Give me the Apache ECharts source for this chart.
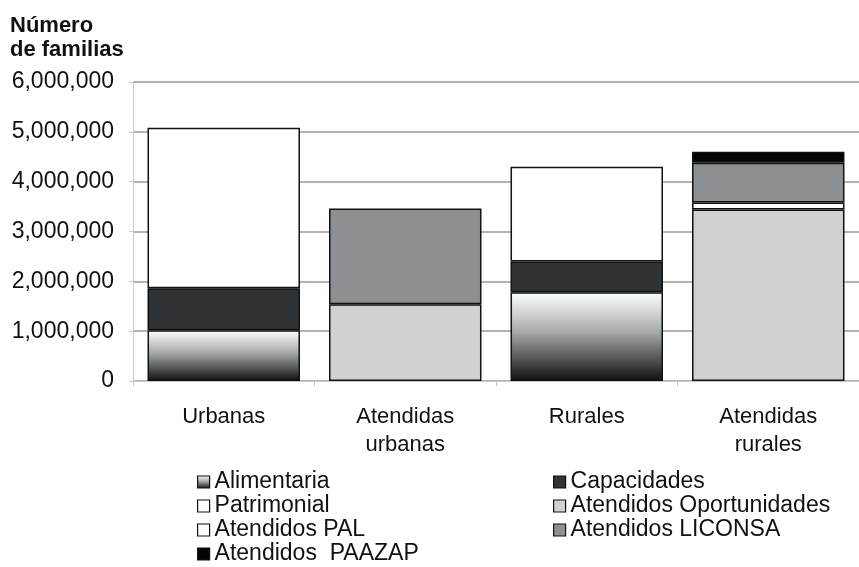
<!DOCTYPE html>
<html>
<head>
<meta charset="utf-8">
<script src="https://cdn.jsdelivr.net/npm/echarts@6/dist/echarts.min.js"></script>
<style>
html, body { margin: 0; padding: 0; background: #fff; }
#main { width: 859px; height: 567px; }
</style>
</head>
<body>
<div id="main"></div>
<script>
const categories = ['Urbanas', 'Atendidas\nurbanas', 'Rurales', 'Atendidas\nrurales'];
const alimentaria = [1020000, '-', 1780000, '-'];
const capacidades = [840000, '-', 620000, '-'];
const patrimonial = [3220000, '-', 1900000, '-'];
const oportunidades = ['-', 1540000, '-', 3440000];
const pal = ['-', '-', '-', 140000];
const liconsa = ['-', 1920000, '-', 800000];
const paazap = ['-', '-', '-', 220000];
const yMax = 6000000;
const yStep = 1000000;

const chart = echarts.init(document.getElementById('main'));
const font = 'Liberation Sans, Arial, sans-serif';
const border = { borderColor: '#111', borderWidth: 1.5 };

function seg(name, data, color) {
    return {
        name: name,
        type: 'bar',
        stack: 'total',
        barCategoryGap: '16%',
        itemStyle: Object.assign({ color: color }, border),
        emphasis: { disabled: true },
        data: data
    };
}

const gradient = new echarts.graphic.LinearGradient(0, 0, 0, 1, [
    { offset: 0, color: '#ffffff' },
    { offset: 0.45, color: '#a5a9ab' },
    { offset: 1, color: '#0e0f10' }
]);

const legendBase = {
    orient: 'vertical', top: 470, itemGap: 0, padding: 0,
    height: 97, icon: 'rect',
    itemWidth: 12, itemHeight: 12,
    itemStyle: { borderColor: '#111', borderWidth: 1.2 },
    textStyle: { fontSize: 23, color: '#111', lineHeight: 24 }
};

const option = {
    animation: false,
    textStyle: { fontFamily: font },
    title: {
        text: 'Número\nde familias',
        left: 5,
        top: 9,
        textStyle: { fontSize: 22, fontWeight: 'bold', color: '#111', lineHeight: 24, fontFamily: font }
    },
    grid: { left: 133, right: 0, top: 82, bottom: 186 },
    legend: [
        Object.assign({}, legendBase, {
            left: 197,
            data: ['Alimentaria', 'Patrimonial', 'Atendidos PAL', 'Atendidos  PAAZAP']
        }),
        Object.assign({}, legendBase, {
            left: 553,
            data: ['Capacidades', 'Atendidos Oportunidades', 'Atendidos LICONSA']
        })
    ],
    xAxis: {
        type: 'category',
        data: categories,
        axisLine: { lineStyle: { color: '#c8c8c8', width: 1 } },
        axisTick: { show: true, length: 5, lineStyle: { color: '#c8c8c8' } },
        axisLabel: { fontSize: 22, color: '#111', margin: 22, lineHeight: 28 }
    },
    yAxis: {
        type: 'value',
        min: 0,
        max: yMax,
        interval: yStep,
        axisLine: { show: true, lineStyle: { color: '#c8c8c8' } },
        axisTick: { show: true, length: 4, lineStyle: { color: '#c8c8c8' } },
        splitLine: { lineStyle: { color: '#9a9a9a', width: 1.5 } },
        axisLabel: {
            fontSize: 23, color: '#111', margin: 19,
            formatter: function (v) { return v.toLocaleString('en-US'); }
        }
    },
    series: [
        seg('Alimentaria', alimentaria, gradient),
        seg('Capacidades', capacidades, '#2f3335'),
        seg('Patrimonial', patrimonial, '#ffffff'),
        seg('Atendidos Oportunidades', oportunidades, '#d0d1d3'),
        seg('Atendidos PAL', pal, '#ffffff'),
        seg('Atendidos LICONSA', liconsa, '#8c9092'),
        seg('Atendidos  PAAZAP', paazap, '#050505')
    ]
};
chart.setOption(option);
</script>
</body>
</html>
